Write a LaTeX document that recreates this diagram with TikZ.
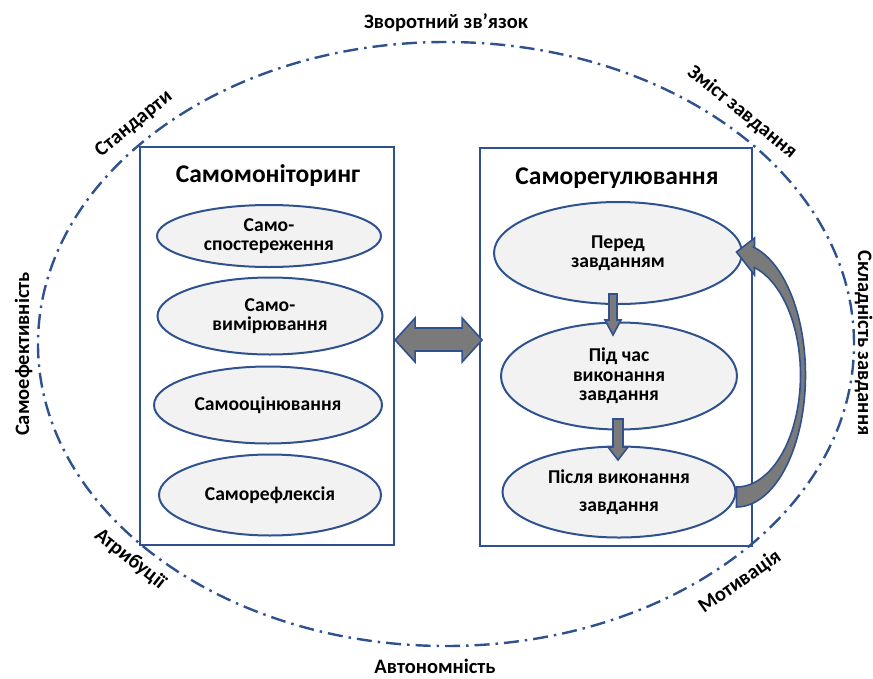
\documentclass[tikz,border=0pt]{standalone}
\usepackage{fontspec}
\setmainfont{Carlito}
\usetikzlibrary{shapes.geometric,calc}
\definecolor{ob}{RGB}{47,82,143}
\definecolor{ef}{RGB}{242,242,242}
\definecolor{ag}{RGB}{122,122,122}
\begin{document}
\begin{tikzpicture}[x=1pt,y=-1pt,
  frame/.style={ellipse, draw=ob, line width=2.4pt, dash pattern=on 15pt off 6pt on 2.5pt off 6pt, inner sep=0pt},
  box/.style={draw=ob, line width=2.2pt, inner sep=0pt},
  ttl/.style={font=\fontsize{25.5}{27}\selectfont\bfseries},
  oval/.style={ellipse, draw=ob, fill=ef, line width=2pt, inner sep=0pt, align=center, font=\fontsize{19.6}{19.5}\selectfont\bfseries},
  lab/.style={font=\fontsize{20.5}{22}\selectfont\bfseries, inner sep=0pt},
  blk/.style={fill=ag, draw=ob, line width=1.6pt, line join=miter}]
\useasboundingbox (0,0) rectangle (873,678);
\node[frame, minimum width=816pt, minimum height=604pt] (outer) at (446,344) {};
\node[box, minimum width=254pt, minimum height=398pt] (L) at (267,346) {};
\node[box, minimum width=272pt, minimum height=398pt] (R) at (616,347) {};
\node[ttl] (Lt) at (268,176) {Самомоніторинг};
\node[ttl] (Rt) at (617,178) {Саморегулювання};
\node[oval, minimum width=224pt, minimum height=62pt] (l1) at (269,236) {Само-\\спостереження};
\node[oval, minimum width=225pt, minimum height=77pt] (l2) at (270,316) {Само-\\вимірювання};
\node[oval, minimum width=228pt, minimum height=77pt] (l3) at (268,405) {Самооцінювання};
\node[oval, minimum width=222pt, minimum height=81pt] (l4) at (270,495) {Саморефлексія};
\node[oval, minimum width=248pt, minimum height=102pt] (r1) at (618,253) {Перед\\завданням};
\node[oval, minimum width=236pt, minimum height=107pt] (r2) at (619,376) {Під час\\виконання\\завдання};
\node[oval, minimum width=233pt, minimum height=91pt] (r3) at (619,492) {Після виконання\\[8pt]завдання};
% double block arrow between the two boxes
\coordinate (d1) at (L.east |- 0,340);
\draw[blk, shift={(d1)}] (0,0) -- (20,-22) -- (20,-12) -- (67,-12) -- (67,-22) -- (87,0) -- (67,22) -- (67,11) -- (20,11) -- (20,22) -- cycle;
% down block arrows
\coordinate (a1) at (613,294);
\coordinate (a2) at (618,419);
\draw[blk, shift={(a1)}] (-4,0) -- (4,0) -- (4,26) -- (8,26) -- (0,41) -- (-8,26) -- (-4,26) -- cycle;
\draw[blk, shift={(a2)}] (-5,0) -- (5,0) -- (5,28) -- (10,28) -- (0,41) -- (-10,28) -- (-5,28) -- cycle;
% curved block arrow from r3 back to r1
\coordinate (cc) at (r3.east |- 0,375);
\begin{scope}[shift={(cc)}]
\draw[blk] (18,-127.5) -- plot[domain=75:-90, samples=50] ({69*cos(\x)},{-132*sin(\x)}) -- (0,112)
  -- plot[domain=-90:73.7, samples=50] ({64*cos(\x)},{-112*sin(\x)}) -- (18,-100) -- (0,-123) -- (18,-137) -- cycle;
\end{scope}
% outer labels
\node[lab] (fb) at (446,23) {Зворотний зв’язок};
\node[lab] (au) at (435,666) {Автономність};
\node[lab, rotate=90, anchor=base] (se) at (29,354) {Самоефективність};
\node[lab, rotate=-90, anchor=base] (sk) at (858,343) {Складність завдання};
\node[lab, rotate=39] (st) at (134,124) {Стандарти};
\node[lab, rotate=-39] (zm) at (742,112) {Зміст завдання};
\node[lab, rotate=-38] (at) at (130,559) {Атрибуції};
\node[lab, rotate=35] (mo) at (740,582) {Мотивація};
\end{tikzpicture}
\end{document}
